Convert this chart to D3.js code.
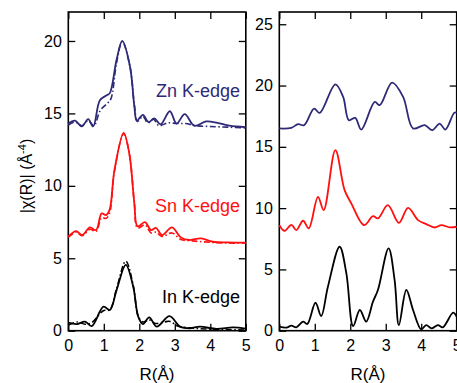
<!DOCTYPE html>
<html>
<head>
<meta charset="utf-8">
<script src="https://cdn.jsdelivr.net/npm/d3@7"></script>
<style>
  body { margin: 0; background: #fff; }
  svg { display: block; font-family: "Liberation Sans", Arial, Helvetica, sans-serif; }
</style>
</head>
<body>
<div id="chart"></div>
<script>
// data: [R (Å), |chi(R)| (Å^-4)]
const xTicks = [0, 1, 2, 3, 4, 5];
const leftYTicks = [0, 5, 10, 15, 20];
const rightYTicks = [0, 5, 10, 15, 20, 25];

const znExp = [[0,14.3],[0.19,14.5],[0.38,14.1],[0.56,14.6],[0.7,14.1],[0.89,15.9],[1.08,16.25],[1.17,16.4],[1.36,18.7],[1.52,20.0],[1.74,18.2],[1.86,15.5],[1.93,14.5],[2.1,14.9],[2.26,14.4],[2.42,14.65],[2.6,14.25],[2.86,15.15],[3.05,14.3],[3.28,14.95],[3.55,14.15],[3.88,14.45],[4.2,14.35],[4.54,14.15],[5,14.05]];
const znFit = [[0,14.2],[0.19,14.4],[0.38,14.15],[0.56,14.5],[0.72,14.15],[0.9,15.2],[1.1,15.7],[1.2,16.0],[1.36,18.5],[1.52,19.95],[1.74,18.2],[1.86,15.6],[1.95,14.45],[2.1,14.8],[2.24,14.35],[2.4,14.6],[2.55,14.15],[2.8,14.35],[3.05,14.3],[3.3,14.3],[3.6,14.15],[4.0,14.1],[4.5,14.05],[5,14.0]];
const snExp = [[0,6.5],[0.22,6.88],[0.39,6.6],[0.61,7.13],[0.78,6.94],[0.94,8.1],[1.06,7.98],[1.16,8.32],[1.3,11.08],[1.56,13.66],[1.72,12.2],[1.86,8.8],[1.95,7.2],[2.16,7.5],[2.33,6.94],[2.47,7.1],[2.64,6.6],[2.92,7.13],[3.17,6.44],[3.41,6.26],[3.74,6.37],[4.07,6.14],[4.5,6.1],[5,6.08]];
const snFit = [[0,6.45],[0.22,6.8],[0.39,6.55],[0.61,7.0],[0.78,6.85],[0.94,7.8],[1.06,7.75],[1.16,8.1],[1.3,11.0],[1.56,13.6],[1.72,12.2],[1.86,8.8],[1.95,7.1],[2.16,7.3],[2.33,6.75],[2.47,6.8],[2.64,6.5],[2.92,6.75],[3.17,6.3],[3.5,6.2],[4.0,6.1],[4.5,6.05],[5,6.05]];
const inExp = [[0,0.55],[0.24,0.46],[0.47,0.62],[0.66,0.32],[0.99,1.66],[1.17,1.43],[1.36,2.8],[1.62,4.55],[1.83,3.03],[1.97,0.97],[2.1,0.46],[2.28,0.92],[2.49,0.28],[2.85,1.01],[3.15,0.28],[3.43,0.17],[3.71,0.28],[4.18,0.12],[4.64,0.23],[5,0.15]];
const inFit = [[0,0.4],[0.25,0.6],[0.47,0.45],[0.66,0.55],[0.9,1.2],[1.0,1.4],[1.17,1.45],[1.36,2.9],[1.62,4.8],[1.83,3.1],[1.97,1.0],[2.1,0.6],[2.28,0.75],[2.45,0.5],[2.7,0.6],[2.85,0.65],[3.1,0.3],[3.4,0.2],[4,0.1],[5,0.05]];

const znRight = [[0,16.5],[0.34,16.55],[0.53,16.85],[0.7,16.77],[0.98,18.12],[1.14,17.77],[1.58,20.1],[1.8,19.07],[1.96,17.17],[2.14,17.36],[2.31,16.41],[2.69,18.66],[2.83,18.4],[3.18,20.24],[3.49,19.07],[3.77,16.5],[4.1,16.77],[4.31,16.36],[4.52,16.9],[4.68,16.41],[4.93,17.77],[5,17.8]];
const snRight = [[0,8.61],[0.15,8.15],[0.34,8.64],[0.48,8.2],[0.67,8.97],[0.83,8.35],[1.09,10.92],[1.25,9.84],[1.58,14.73],[1.84,11.47],[2.03,10.38],[2.39,8.61],[2.64,9.35],[2.78,9.16],[3.06,10.24],[3.37,8.8],[3.63,10.02],[3.91,9.02],[4.14,8.7],[4.38,8.42],[4.57,8.61],[4.8,8.43],[5,8.48]];
const inRight = [[0,0.33],[0.2,0.25],[0.34,0.41],[0.48,0.28],[0.67,0.74],[0.79,0.55],[1.02,2.28],[1.18,1.2],[1.37,3.59],[1.7,6.85],[1.89,4.68],[2.08,0.38],[2.27,1.69],[2.45,0.74],[2.64,2.37],[2.78,3.32],[3.08,6.71],[3.25,4.13],[3.37,0.46],[3.58,3.32],[3.77,1.69],[4.0,0.11],[4.14,0.46],[4.29,0.19],[4.47,0.46],[4.61,0.28],[4.9,1.47],[5,1.14]];

const labels = ["Zn K-edge", "Sn K-edge", "In K-edge"];
const colors = ["#2e2a78", "#ff1010", "#000000"];

var width = 457, height = 383;
var svg = d3.select("#chart").append("svg")
  .attr("width", width)
  .attr("height", height);

function panel(x0, x1, yMax, yTicks) {
  var x = d3.scaleLinear().domain([0, 5]).range([x0, x1]);
  var y = d3.scaleLinear().domain([0, yMax]).range([330.7, 12]);
  var g = svg.append("g");

  var styleAxis = function(sel) {
    sel.select(".domain").remove();
    sel.selectAll(".tick line").attr("stroke", "#000").attr("stroke-width", 1.3);
    sel.selectAll("text").attr("fill", "#000").attr("font-size", 16);
  };

  g.append("g").attr("transform", "translate(0,330.7)")
    .call(d3.axisBottom(x).tickValues(xTicks).tickSize(-7).tickPadding(8.5).tickFormat(d3.format("d")))
    .call(styleAxis);
  g.append("g").attr("transform", "translate(0,12)")
    .call(d3.axisTop(x).tickValues(xTicks).tickSize(-7).tickFormat(""))
    .call(styleAxis);
  g.append("g").attr("transform", "translate(" + x0 + ",0)")
    .call(d3.axisLeft(y).tickValues(yTicks).tickSize(-7).tickPadding(6.5).tickFormat(d3.format("d")))
    .call(styleAxis);
  g.append("g").attr("transform", "translate(" + x1 + ",0)")
    .call(d3.axisRight(y).tickValues(yTicks).tickSize(-7).tickFormat(""))
    .call(styleAxis);

  g.append("rect")
    .attr("x", x0).attr("y", 12)
    .attr("width", x1 - x0).attr("height", 330.7 - 12)
    .attr("fill", "none").attr("stroke", "#000").attr("stroke-width", 1.6);

  g.append("text")
    .attr("x", (x0 + x1) / 2).attr("y", 380)
    .attr("text-anchor", "middle").attr("font-size", 17)
    .text("R(Å)");

  var line = d3.line()
    .x(function(d) { return x(d[0]); })
    .y(function(d) { return y(d[1]); })
    .curve(d3.curveCatmullRom.alpha(0.5));

  return { g: g, x: x, y: y, line: line };
}

var left = panel(68.3, 245.8, 22, leftYTicks);
var right = panel(279.3, 456.7, 26, rightYTicks);

[znFit, snFit, inFit].forEach(function(d, i) {
  left.g.append("path").datum(d)
    .attr("d", left.line)
    .attr("fill", "none").attr("stroke", colors[i])
    .attr("stroke-width", 1.6)
    .attr("stroke-dasharray", "6,2.5,1.5,2.5");
});
[znExp, snExp, inExp].forEach(function(d, i) {
  left.g.append("path").datum(d)
    .attr("d", left.line)
    .attr("fill", "none").attr("stroke", colors[i])
    .attr("stroke-width", 1.8);
});
[znRight, snRight, inRight].forEach(function(d, i) {
  right.g.append("path").datum(d)
    .attr("d", right.line)
    .attr("fill", "none").attr("stroke", colors[i])
    .attr("stroke-width", 1.8);
});

// edge labels
var labelY = [96.7, 211.7, 303.3];
labels.forEach(function(t, i) {
  svg.append("text")
    .attr("x", 240).attr("y", labelY[i])
    .attr("text-anchor", "end").attr("font-size", 18)
    .attr("fill", colors[i])
    .text(t);
});

// y axis title
var yt = svg.append("text")
  .attr("transform", "translate(32,176) rotate(-90)")
  .attr("text-anchor", "middle").attr("font-size", 16);
yt.append("tspan").text("|χ(R)| (Å");
yt.append("tspan").attr("dy", -6).attr("font-size", 11).text("-4");
yt.append("tspan").attr("dy", 6).text(")");
</script>
</body>
</html>
